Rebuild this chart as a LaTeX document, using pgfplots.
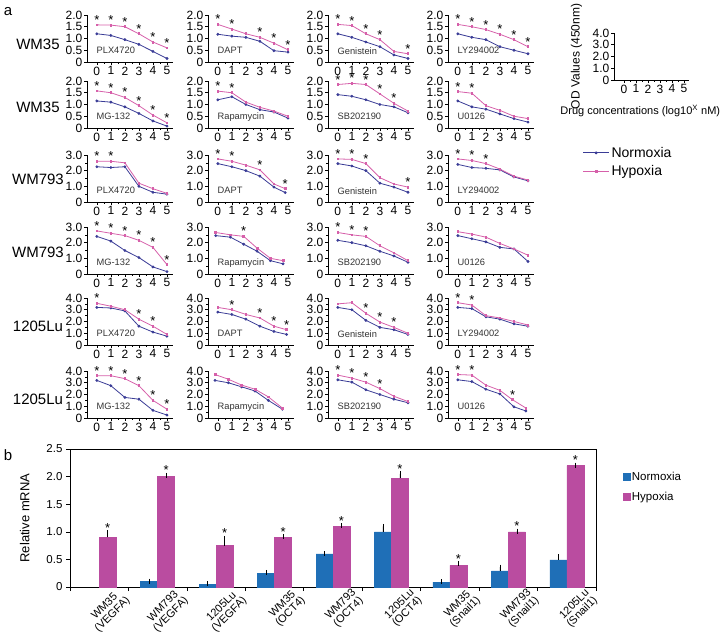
\documentclass[border=0pt]{standalone}
\usepackage{fontspec}
\setmainfont{Liberation Sans}
\usepackage{pgfplots}
\pgfplotsset{compat=1.18}
\definecolor{nblue}{RGB}{58,60,150}
\definecolor{hpink}{RGB}{214,96,170}
\definecolor{barblue}{RGB}{31,111,183}
\definecolor{barpink}{RGB}{186,76,160}
\pgfplotsset{
  /pgf/number format/assume math mode=true,
  small/.style={
    scale only axis, width=86pt, height=47pt,
    xmin=-0.7, xmax=5.43, ymin=0,
    axis lines=left, axis line style={-, line width=0.6pt},
    xtick={0,...,5}, minor x tick num=1,
    tick align=outside, major tick length=3pt, minor tick length=2pt,
    tick style={line width=0.6pt, black},
    tick label style={font=\fontsize{12}{12}\selectfont, inner sep=1.5pt},
    clip=false,
  },
  r12/.style={ymax=2.0, ytick={0,0.5,1,1.5,2}, yticklabels={0,0.5,1.0,1.5,2.0}},
  r34/.style={ymax=3.0, ytick={0,1,2,3}, yticklabels={0,1.0,2.0,3.0}, minor y tick num=1},
  r56/.style={ymax=4.0, ytick={0,1,2,3,4}, yticklabels={0,1.0,2.0,3.0,4.0}, minor y tick num=1},
  nline/.style={nblue, line width=0.8pt, mark=*, mark size=1pt},
  hline/.style={hpink, line width=0.8pt, mark=square*, mark size=0.9pt},
  stars/.style={draw=none, mark=none, nodes near coords={*},
    every node near coord/.append style={anchor=south, font=\fontsize{13}{13}\selectfont, inner sep=0.3pt, text=black}},
}
\newcommand\smallplot[7]{%
\begin{axis}[small, #3, at={(#1pt,#2pt)}, anchor=south west]
\addplot[nline] coordinates {#5};
\addplot[hline] coordinates {#6};
\addplot[stars] coordinates {#7};
\node[anchor=west, font=\fontsize{9.3}{9.3}\selectfont, text=black!80, inner sep=0pt] at (rel axis cs:0.11,0.24) {#4};
\end{axis}}
\begin{document}
\begin{tikzpicture}
\useasboundingbox (0pt,0pt) rectangle (722pt,642pt);
% panel letters and row labels
\node[font=\fontsize{15}{15}\selectfont] at (8pt,630pt) {a};
\node[font=\fontsize{15}{15}\selectfont] at (8pt,187pt) {b};
\foreach \lab/\yy in {WM35/598, WM35/535, WM793/463, WM793/390, 1205Lu/316, 1205Lu/243}
  \node[font=\fontsize{15}{15}\selectfont] at (38pt,\yy pt) {\lab};

% ---------- Row 1 (WM35) ----------
\smallplot{87}{580}{r12}{PLX4720}
 {(0,1.2)(1,1.13)(2,0.95)(3,0.75)(4,0.45)(5,0.15)}
 {(0,1.58)(1,1.57)(2,1.5)(3,1.2)(4,0.85)(5,0.6)}
 {(0,1.58)(1,1.57)(2,1.5)(3,1.2)(4,0.85)(5,0.6)}
\smallplot{208}{580}{r12}{DAPT}
 {(0,1.18)(1,1.1)(2,1.05)(3,0.88)(4,0.48)(5,0.42)}
 {(0,1.6)(1,1.4)(2,1.2)(3,1.05)(4,0.8)(5,0.52)}
 {(0,1.6)(1,1.4)(3,1.05)(4,0.8)(5,0.52)}
\smallplot{328}{580}{r12}{Genistein}
 {(0,1.2)(1,1.05)(2,0.85)(3,0.65)(4,0.3)(5,0.15)}
 {(0,1.6)(1,1.55)(2,1.2)(3,0.95)(4,0.45)(5,0.35)}
 {(0,1.6)(1,1.55)(2,1.2)(3,0.95)(5,0.35)}
\smallplot{448}{580}{r12}{LY294002}
 {(0,1.2)(1,1.05)(2,0.95)(3,0.65)(4,0.5)(5,0.35)}
 {(0,1.6)(1,1.5)(2,1.38)(3,1.18)(4,0.95)(5,0.65)}
 {(0,1.6)(1,1.5)(2,1.38)(3,1.18)(4,0.95)(5,0.65)}
% ---------- Row 2 (WM35) ----------
\smallplot{87}{514}{r12}{MG-132}
 {(0,1.15)(1,1.1)(2,0.9)(3,0.62)(4,0.3)(5,0.08)}
 {(0,1.58)(1,1.5)(2,1.3)(3,0.95)(4,0.55)(5,0.22)}
 {(0,1.58)(1,1.5)(2,1.3)(3,0.95)(4,0.55)(5,0.22)}
\smallplot{208}{514}{r12}{Rapamycin}
 {(0,1.2)(1,1.33)(2,1.0)(3,0.78)(4,0.68)(5,0.42)}
 {(0,1.57)(1,1.5)(2,1.1)(3,0.88)(4,0.72)(5,0.5)}
 {(0,1.57)(1,1.5)}
\smallplot{328}{514}{r12}{SB202190}
 {(0,1.42)(1,1.35)(2,1.2)(3,1.0)(4,0.9)(5,0.65)}
 {(0,1.85)(1,1.9)(2,1.85)(3,1.45)(4,1.05)(5,0.72)}
 {(0,1.85)(1,1.9)(2,1.85)(3,1.45)(4,1.05)}
\smallplot{448}{514}{r12}{U0126}
 {(0,1.15)(1,0.9)(2,0.8)(3,0.6)(4,0.4)(5,0.25)}
 {(0,1.55)(1,1.48)(2,0.95)(3,0.75)(4,0.5)(5,0.4)}
 {(0,1.55)(1,1.48)}
% ---------- Row 3 (WM793) ----------
\smallplot{87}{440}{r34}{PLX4720}
 {(0,2.25)(1,2.2)(2,2.25)(3,1.0)(4,0.62)(5,0.5)}
 {(0,2.6)(1,2.6)(2,2.5)(3,1.2)(4,0.85)(5,0.55)}
 {(0,2.6)(1,2.6)}
\smallplot{208}{440}{r34}{DAPT}
 {(0,2.45)(1,2.25)(2,2.0)(3,1.65)(4,0.95)(4.8,0.6)}
 {(0,2.75)(1,2.6)(2,2.35)(3,2.05)(4,1.15)(4.8,0.85)}
 {(0,2.75)(1,2.6)(3,2.05)(4.8,0.85)}
\smallplot{328}{440}{r34}{Genistein}
 {(0,2.45)(1,2.3)(2,2.0)(3,1.2)(4,0.95)(5,0.62)}
 {(0,2.75)(1,2.72)(2,2.45)(3,1.55)(4,1.15)(5,0.95)}
 {(0,2.75)(1,2.72)(2,2.45)(5,0.95)}
\smallplot{448}{440}{r34}{LY294002}
 {(0,2.4)(1,2.2)(2,2.15)(3,2.05)(4,1.6)(5,1.35)}
 {(0,2.75)(1,2.65)(2,2.45)(3,2.1)(4,1.65)(5,1.4)}
 {(0,2.75)(1,2.65)(2,2.45)}
% ---------- Row 4 (WM793) ----------
\smallplot{87}{368}{r34}{MG-132}
 {(0,2.4)(1,2.1)(2,1.5)(3,1.05)(4,0.45)(5,0.15)}
 {(0,2.75)(1,2.6)(2,2.45)(3,2.15)(4,1.7)(5,0.6)}
 {(0,2.75)(1,2.6)(2,2.45)(3,2.15)(4,1.7)(5,0.6)}
\smallplot{208}{368}{r34}{Rapamycin}
 {(-0.15,2.45)(0.9,2.35)(1.85,1.9)(2.8,1.45)(3.75,0.85)(4.65,0.65)}
 {(-0.15,2.65)(0.9,2.5)(1.85,2.4)(2.8,1.65)(3.75,1.0)(4.65,0.85)}
 {(1.85,2.4)}
\smallplot{328}{368}{r34}{SB202190}
 {(0,2.15)(1,2.0)(2,1.8)(3,1.45)(4,1.15)(5,0.75)}
 {(0,2.65)(1,2.5)(2,2.4)(3,1.8)(4,1.35)(5,0.85)}
 {(0,2.65)(1,2.5)(2,2.4)}
\smallplot{448}{368}{r34}{U0126}
 {(0,2.45)(1,2.25)(2,2.05)(3,1.7)(4,1.6)(5,0.8)}
 {(0,2.7)(1,2.55)(2,2.35)(3,1.95)(4,1.6)(5,1.2)}
 {}
% ---------- Row 5 (1205Lu) ----------
\smallplot{87}{297}{r56}{PLX4720}
 {(0,3.2)(1,3.15)(2,2.9)(3,1.6)(4,1.1)(5,0.75)}
 {(0,3.55)(1,3.3)(2,3.0)(3,2.2)(4,1.6)(5,0.9)}
 {(0,3.55)(3,2.2)(4,1.6)}
\smallplot{208}{297}{r56}{DAPT}
 {(0,2.8)(1,2.6)(2,2.2)(3,1.6)(4,1.15)(4.9,0.9)}
 {(0,3.2)(1,3.0)(2,2.6)(3,2.3)(4,1.6)(4.9,1.3)}
 {(1,3.0)(3,2.3)(4,1.6)(4.9,1.3)}
\smallplot{328}{297}{r56}{Genistein}
 {(0,3.2)(1,3.0)(2,2.1)(3,1.5)(4,1.3)(5,0.9)}
 {(0,3.5)(1,3.6)(2,2.7)(3,1.95)(4,1.5)(5,1.0)}
 {(2,2.7)(3,1.95)(4,1.5)}
\smallplot{448}{297}{r56}{LY294002}
 {(0,3.2)(1,3.1)(2,2.4)(3,2.2)(4,1.8)(5,1.6)}
 {(0,3.6)(1,3.4)(2,2.5)(3,2.3)(4,2.0)(5,1.7)}
 {(0,3.6)(1,3.4)}
% ---------- Row 6 (1205Lu) ----------
\smallplot{87}{224}{r56}{MG-132}
 {(0,3.2)(1,2.75)(2,1.75)(3,1.6)(4,0.65)(5,0.25)}
 {(0,3.6)(1,3.6)(2,3.35)(3,2.75)(4,1.5)(5,0.75)}
 {(0,3.6)(1,3.6)(2,3.35)(3,2.75)(4,1.5)(5,0.75)}
\smallplot{208}{224}{r56}{Rapamycin}
 {(-0.2,3.2)(0.75,3.0)(1.7,2.65)(2.65,2.3)(3.6,1.5)(4.6,0.75)}
 {(-0.2,3.7)(0.75,3.3)(1.7,2.8)(2.65,2.45)(3.6,1.8)(4.6,0.85)}
 {}
\smallplot{328}{224}{r56}{SB202190}
 {(0,3.25)(1,3.05)(2,2.4)(3,2.0)(4,1.6)(5,1.3)}
 {(0,3.65)(1,3.4)(2,3.05)(3,2.5)(4,1.85)(5,1.4)}
 {(0,3.65)(1,3.4)(2,3.05)(3,2.5)}
\smallplot{448}{224}{r56}{U0126}
 {(0,3.25)(1,3.1)(2,2.45)(3,2.05)(4,0.95)(4.85,0.6)}
 {(0,3.7)(1,3.65)(2,2.8)(3,2.35)(3.9,1.55)(4.85,0.85)}
 {(0,3.7)(1,3.65)(3.9,1.55)}

% ---------- template axis ----------
\begin{axis}[small, width=75pt, xmin=-0.83, xmax=5.42, ymax=4,
  ytick={0,1,2,3,4}, yticklabels={0,1.0,2.0,3.0,4.0},
  at={(614pt,562pt)}, anchor=south west,
  legend style={at={(rel axis cs:-0.42,-1.38)}, anchor=north west, draw=none, fill=none,
    font=\fontsize{14}{14}\selectfont, row sep=3pt, inner sep=0pt},
  legend image code/.code={\draw[mark repeat=2,mark phase=2,#1] plot coordinates {(0pt,0pt) (13pt,0pt) (26pt,0pt)};},
  legend cell align=left,
]
\addlegendimage{nline}\addlegendentry{Normoxia}
\addlegendimage{hline}\addlegendentry{Hypoxia}
\node[rotate=90, font=\fontsize{12}{12}\selectfont] at (rel axis cs:-0.5,0.5) {OD Values (450nm)};
\node[font=\fontsize{11}{11}\selectfont] at (rel axis cs:0.35,-0.66) {Drug concentrations (log10\textsuperscript{X} nM)};
\end{axis}

% ---------- bar chart ----------
\begin{axis}[at={(70pt,55pt)}, anchor=south west, scale only axis, width=526pt, height=138pt,
  xmin=-0.5, xmax=8.5, ymin=0, ymax=2.5, clip=false,
  ybar=0pt, bar width=17pt,
  ytick={0,0.5,1,1.5,2,2.5}, yticklabels={0,0.5,1.0,1.5,2.0,2.5},
  ytick pos=left, xtick pos=bottom, tick align=outside,
  major tick length=4pt, minor tick length=4pt,
  tick style={line width=0.6pt, black},
  axis line style={line width=0.7pt},
  xtick={0,...,8},
  xticklabels={{WM35\\(VEGFA)},{WM793\\(VEGFA)},{1205Lu\\(VEGFA)},{WM35\\(OCT4)},{WM793\\(OCT4)},{1205Lu\\(OCT4)},{WM35\\(Snail1)},{WM793\\(Snail1)},{1205Lu\\(Snail1)}},
  major x tick style={draw=none},
  minor xtick={-0.5,0.5,...,8.5},
  xticklabel style={rotate=45, anchor=north east, align=center, font=\fontsize{11}{11}\selectfont, xshift=15pt, yshift=-10pt, inner sep=0pt},
  yticklabel style={font=\fontsize{11.5}{11.5}\selectfont},
  ylabel={Relative mRNA}, ylabel style={font=\fontsize{13}{13}\selectfont, at={(rel axis cs:-0.086,0.5)}, anchor=center},
  legend style={at={(rel axis cs:1.05,0.85)}, anchor=north west, draw=none, fill=none,
    font=\fontsize{11.5}{11.5}\selectfont, row sep=6pt, inner sep=0pt},
  legend image code/.code={\fill[#1] (0pt,-3.5pt) rectangle (7pt,3.5pt);},
  legend cell align=left,
  error bars/y dir=plus, error bars/y explicit,
  error bars/error bar style={black, line width=0.6pt},
  error bars/error mark options={black, mark size=2.5pt, line width=0.6pt},
]
\addplot[fill=barblue, draw=barblue]
  coordinates {(1,0.1) +- (0,0.005) (2,0.05) +- (0,0.005) (3,0.25) +- (0,0.015) (4,0.6) +- (0,0.005) (5,1.0) +- (0,0.1) (6,0.09) +- (0,0.005) (7,0.29) +- (0,0.07) (8,0.49) +- (0,0.06)};
\addlegendentry{Normoxia}
\addplot[fill=barpink, draw=barpink]
  coordinates {(0,0.9) +- (0,0.08) (1,2.0) +- (0,0.02) (2,0.75) +- (0,0.13) (3,0.9) +- (0,0.01) (4,1.1) +- (0,0.01) (5,1.97) +- (0,0.08) (6,0.39) +- (0,0.03) (7,1.0) +- (0,0.01) (8,2.2) +- (0,0.01)};
\addlegendentry{Hypoxia}
\end{axis}
% overlay axis for significance stars
\begin{axis}[at={(70pt,55pt)}, anchor=south west, scale only axis, width=526pt, height=138pt,
  xmin=-0.5, xmax=8.5, ymin=0, ymax=2.5, clip=false, hide axis]
\addplot[draw=none, mark=none, nodes near coords={*},
  every node near coord/.append style={anchor=south, font=\fontsize{13}{13}\selectfont, inner sep=0.3pt, text=black}]
  coordinates {(0.1455,0.98) (1.1455,2.02) (2.1455,0.88) (3.1455,0.91) (4.1455,1.11) (5.1455,2.05) (6.1455,0.42) (7.1455,1.01) (8.1455,2.21)};
\end{axis}
\end{tikzpicture}
\end{document}
